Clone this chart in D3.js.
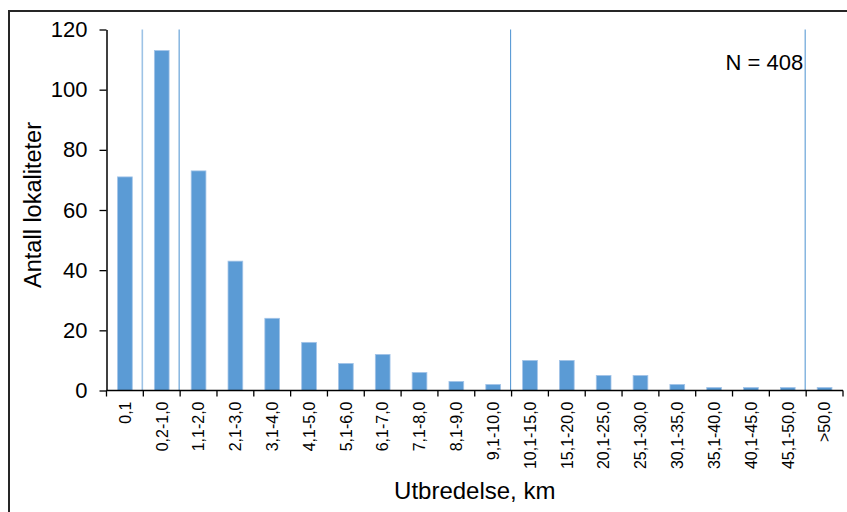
<!DOCTYPE html>
<html>
<head>
<meta charset="utf-8">
<script src="https://cdn.jsdelivr.net/npm/d3@7"></script>
<style>
  body { margin: 0; background: #fff; }
</style>
</head>
<body>
<div id="chart"></div>
<script>
const categories = ["0,1", "0,2-1,0", "1,1-2,0", "2,1-3,0", "3,1-4,0", "4,1-5,0", "5,1-6,0",
    "6,1-7,0", "7,1-8,0", "8,1-9,0", "9,1-10,0", "10,1-15,0", "15,1-20,0", "20,1-25,0",
    "25,1-30,0", "30,1-35,0", "35,1-40,0", "40,1-45,0", "45,1-50,0", ">50,0"];
const counts = [71, 113, 73, 43, 24, 16, 9, 12, 6, 3, 2, 10, 10, 5, 5, 2, 1, 1, 1, 1];
const yTicks = [0, 20, 40, 60, 80, 100, 120];
// vertical divider lines are drawn just before these categories
const dividers = ["0,2-1,0", "1,1-2,0", "10,1-15,0", ">50,0"];
const nLabel = "N = 408";
const xTitle = "Utbredelse, km";
const yTitle = "Antall lokaliteter";

const width = 847;
const height = 512;
const margin = { top: 29.5, right: 4, bottom: 121.5, left: 106.5 };
const plotW = width - margin.left - margin.right;
const plotH = height - margin.top - margin.bottom;
const font = "'Liberation Sans', Arial, sans-serif";

const root = d3.select("#chart")
    .append("svg")
    .attr("width", width)
    .attr("height", height)
    .style("font-family", font);

// outer chart frame
root.append("rect")
    .attr("x", 9)
    .attr("y", 11)
    .attr("width", 900)
    .attr("height", 600)
    .attr("fill", "none")
    .attr("stroke", "#262626")
    .attr("stroke-width", 2);

const svg = root.append("g")
    .attr("transform", `translate(${margin.left},${margin.top})`);

const xScale = d3.scaleBand()
    .domain(categories)
    .range([0, plotW])
    .paddingInner(0.6)
    .paddingOuter(0.3);

const yScale = d3.scaleLinear()
    .domain([0, d3.max(yTicks)])
    .range([plotH, 0]);

const step = xScale.step();
const edge = c => xScale(c) - step * xScale.paddingOuter();

svg.selectAll(".bar")
    .data(categories.map((c, i) => ({ c, v: counts[i] })))
    .enter()
    .append("rect")
    .attr("class", "bar")
    .attr("x", d => xScale(d.c))
    .attr("y", d => yScale(d.v))
    .attr("width", xScale.bandwidth())
    .attr("height", d => plotH - yScale(d.v))
    .attr("fill", "#5b9bd5")
    .attr("stroke", "#a3c4e8")
    .attr("stroke-width", 0.8);

svg.selectAll(".divider")
    .data(dividers)
    .enter()
    .append("line")
    .attr("class", "divider")
    .attr("x1", d => edge(d) - 1)
    .attr("x2", d => edge(d) - 1)
    .attr("y1", yScale(d3.max(yTicks)))
    .attr("y2", yScale(0))
    .attr("stroke", (d, i) => i === 0 ? "#9dc3e6" : "#5b9bd5")
    .attr("stroke-width", (d, i) => i === 0 ? 1.6 : 1.1);

// y axis
const yAxis = svg.append("g")
    .call(d3.axisLeft(yScale).tickValues(yTicks).tickSize(7).tickPadding(12).tickSizeOuter(0));
yAxis.select(".domain").attr("stroke", "#000").attr("stroke-width", 1.5);
yAxis.selectAll(".tick line").attr("stroke", "#000").attr("stroke-width", 1.3);
yAxis.selectAll("text")
    .attr("font-size", "22px")
    .attr("font-family", font)
    .attr("fill", "#000");

// x axis: labels at band centres, ticks at band edges
const xAxis = svg.append("g")
    .attr("transform", `translate(0,${plotH})`)
    .call(d3.axisBottom(xScale).tickSize(0).tickPadding(0));
xAxis.select(".domain").remove();
xAxis.selectAll("text")
    .attr("font-size", "16px")
    .attr("font-family", font)
    .attr("fill", "#000")
    .attr("text-anchor", "end")
    .attr("transform", "rotate(-90)")
    .attr("x", -11)
    .attr("y", 0)
    .attr("dy", "0.36em");

const edges = categories.map(edge).concat([plotW]);
xAxis.selectAll(".edge-tick")
    .data(edges)
    .enter()
    .append("line")
    .attr("class", "edge-tick")
    .attr("x1", d => d)
    .attr("x2", d => d)
    .attr("y1", 0)
    .attr("y2", 6)
    .attr("stroke", "#000")
    .attr("stroke-width", 1.3);

xAxis.append("line")
    .attr("x1", 0)
    .attr("x2", plotW)
    .attr("y1", 0)
    .attr("y2", 0)
    .attr("stroke", "#000")
    .attr("stroke-width", 1.5);

// N annotation
svg.append("text")
    .attr("x", edge(">50,0") - 3)
    .attr("y", 70 - margin.top)
    .attr("text-anchor", "end")
    .attr("font-size", "22px")
    .attr("fill", "#000")
    .text(nLabel);

svg.append("text")
    .attr("x", plotW / 2)
    .attr("y", 499 - margin.top)
    .attr("text-anchor", "middle")
    .attr("font-size", "24px")
    .attr("fill", "#000")
    .text(xTitle);

svg.append("text")
    .attr("transform", "rotate(-90)")
    .attr("x", -(205 - margin.top))
    .attr("y", 41 - margin.left)
    .attr("text-anchor", "middle")
    .attr("font-size", "23.5px")
    .attr("fill", "#000")
    .text(yTitle);
</script>
</body>
</html>
